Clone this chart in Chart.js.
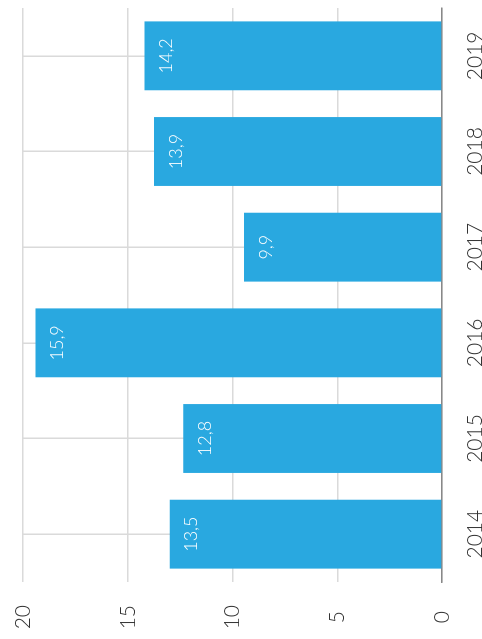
<!DOCTYPE html>
<html lang="en">
<head>
    <meta charset="UTF-8">
    <title>Bars 2014-2019</title>
    <script src="https://cdn.jsdelivr.net/npm/chart.js"></script>
    <style>
        body {
            margin: 0;
            padding: 0;
            background-color: #fff;
            overflow: hidden;
        }

        /* the chart is drawn upright and then turned a quarter left */
        #wrap {
            position: absolute;
            left: 0;
            top: 0;
            width: 639px;
            height: 482px;
            transform-origin: 0 0;
            transform: translateY(639px) rotate(-90deg);
        }
    </style>
</head>
<body>
    <div id="wrap">
        <canvas id="barChart" width="639" height="482"></canvas>
    </div>

    <script>
        // Dados
        var years = ['2014', '2015', '2016', '2017', '2018', '2019'];
        var barValues = [13.0, 12.35, 19.4, 9.45, 13.75, 14.2];
        var barLabels = ['13,5', '12,8', '15,9', '9,9', '13,9', '14,2'];

        var fontFamily = 'Lato, "Open Sans", sans-serif';

        // escreve o rótulo dentro de cada barra, perto da ponta
        var barTextPlugin = {
            id: 'barText',
            afterDatasetsDraw: function (chart) {
                var ctx = chart.ctx;
                var meta = chart.getDatasetMeta(0);
                ctx.save();
                ctx.fillStyle = '#fff';
                ctx.font = '300 18px ' + fontFamily;
                ctx.textAlign = 'center';
                ctx.textBaseline = 'middle';
                meta.data.forEach(function (bar, i) {
                    ctx.fillText(barLabels[i], bar.x, bar.y + 22);
                });
                ctx.restore();
            }
        };

        var ctx = document.getElementById('barChart').getContext('2d');
        var barChart = new Chart(ctx, {
            type: 'bar',
            data: {
                labels: years,
                datasets: [{
                    data: barValues,
                    backgroundColor: '#29a8e0',
                    borderWidth: 0,
                    barPercentage: 0.9,
                    categoryPercentage: 0.8
                }]
            },
            options: {
                responsive: false,
                animation: false,
                layout: {
                    padding: { top: 23, right: 8, left: 0, bottom: 0 }
                },
                plugins: {
                    legend: { display: false },
                    tooltip: { enabled: false }
                },
                scales: {
                    x: {
                        grid: {
                            offset: false,
                            drawTicks: false,
                            color: '#dadada',
                            lineWidth: 1.5
                        },
                        border: { color: '#888', width: 1.5 },
                        ticks: {
                            padding: 21,
                            color: '#333',
                            font: { family: fontFamily, size: 21, weight: 300 }
                        },
                        afterFit: function (scale) { scale.height = 40; }
                    },
                    y: {
                        min: 0,
                        max: 20,
                        grid: {
                            drawTicks: false,
                            color: '#dadada',
                            lineWidth: 1.5
                        },
                        border: { display: false },
                        ticks: {
                            stepSize: 5,
                            padding: 23,
                            crossAlign: 'center',
                            color: '#333',
                            font: { family: fontFamily, size: 21, weight: 300 }
                        },
                        afterFit: function (scale) {
                            scale.width = 57;
                            scale.paddingTop = 0;
                        }
                    }
                }
            },
            plugins: [barTextPlugin]
        });
    </script>
</body>
</html>
